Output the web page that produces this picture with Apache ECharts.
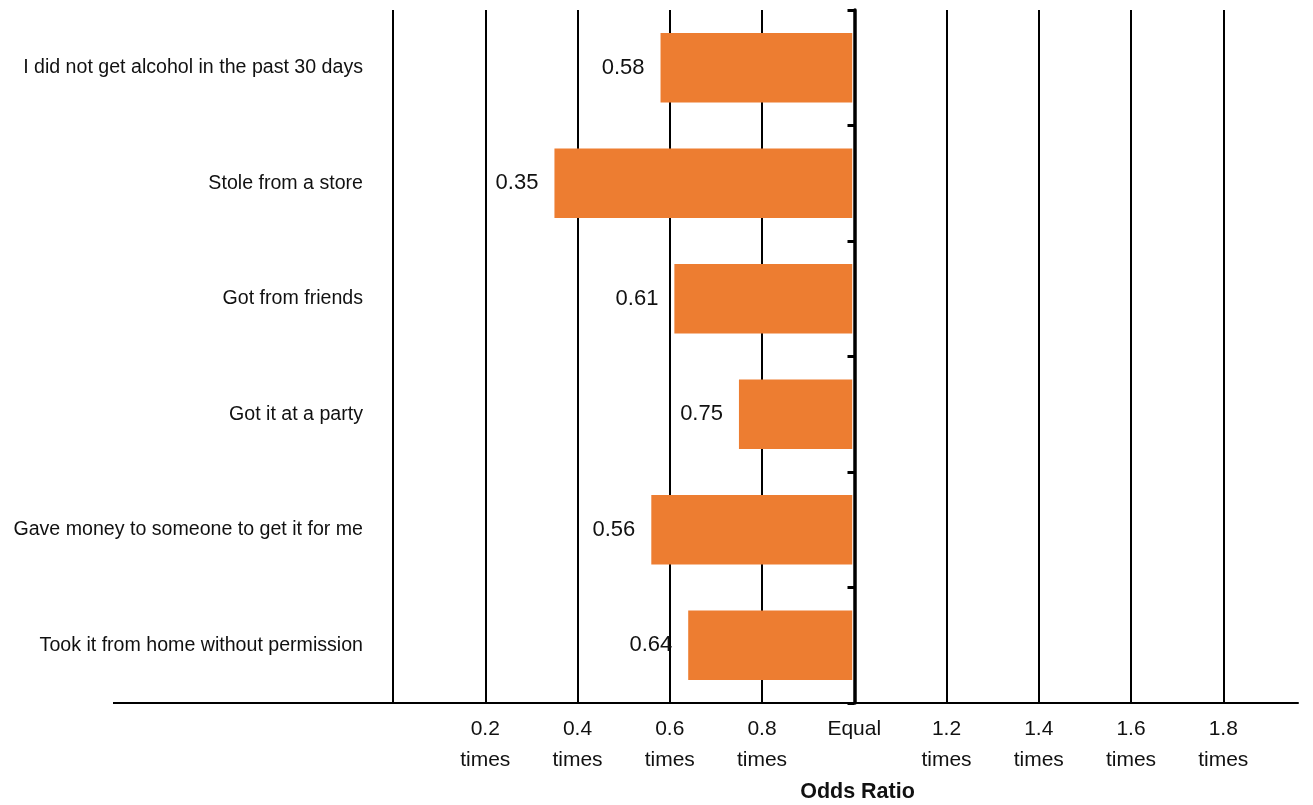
<!DOCTYPE html>
<html>
<head>
<meta charset="utf-8">
<script src="https://cdn.jsdelivr.net/npm/echarts@6/dist/echarts.min.js"></script>
<style>html,body{margin:0;padding:0;background:#fff;}#c{width:1313px;height:805px;}</style>
</head>
<body>
<div id="c"></div>
<script>
const categories = [
  'I did not get alcohol in the past 30 days',
  'Stole from a store',
  'Got from friends',
  'Got it at a party',
  'Gave money to someone to get it for me',
  'Took it from home without permission'
];
const oddsRatios = [0.58, 0.35, 0.61, 0.75, 0.56, 0.64];
const referenceValue = 1;
const tickLabels = {0.2:'0.2\ntimes',0.4:'0.4\ntimes',0.6:'0.6\ntimes',0.8:'0.8\ntimes',1:'Equal',1.2:'1.2\ntimes',1.4:'1.4\ntimes',1.6:'1.6\ntimes',1.8:'1.8\ntimes'};

const FONT = '"Liberation Sans","Arial",sans-serif';
const chart = echarts.init(document.getElementById('c'));
chart.setOption({
  animation: false,
  backgroundColor: '#fff',
  grid: {left: 393, top: 10, width: 905, bottom: 102, containLabel: false, outerBoundsMode: 'none'},
  xAxis: {
    type: 'value', min: 0, max: 1.962, interval: 0.2,
    axisLine: {show: true, lineStyle: {color: '#000', width: 2}},
    axisTick: {show: false},
    splitLine: {show: true, showMaxLine: false, lineStyle: {color: '#000', width: 2}},
    axisLabel: {
      showMaxLabel: false, color: '#111', fontFamily: FONT, fontSize: 21, lineHeight: 31, margin: 11,
      formatter: v => { const k = Math.round(v*10)/10; return tickLabels[k] || ''; }
    },
    name: 'Odds Ratio', nameLocation: 'middle', nameGap: 74,
    nameTextStyle: {fontFamily: FONT, fontSize: 21.5, fontWeight: 'bold', color: '#111', padding: [0,0,0,24]}
  },
  yAxis: [{
    type: 'category', data: categories, inverse: true,
    axisLine: {show: false}, axisTick: {show: false}, splitLine: {show: false},
    axisLabel: {color: '#111', fontFamily: FONT, fontSize: 19.6, margin: 30}
  }, {
    type: 'category', data: categories, inverse: true, position: 'left', offset: -461.5,
    axisLine: {show: true, lineStyle: {color: '#000', width: 3.5}},
    axisTick: {show: true, inside: false, length: 7, lineStyle: {color: '#000', width: 3}},
    axisLabel: {show: false}, splitLine: {show: false}
  }],
  graphic: [{
    type: 'line', z: 10,
    shape: {x1: 113, y1: 703, x2: 394, y2: 703},
    style: {stroke: '#000', lineWidth: 2}
  }],
  series: [{
    type: 'custom',
    data: oddsRatios.map((v, i) => [v, i]),
    encode: {x: 0, y: 1},
    renderItem: function (params, api) {
      const v = api.value(0), idx = api.value(1);
      const p0 = api.coord([v, idx]);
      const p1 = api.coord([referenceValue, idx]);
      const h = api.size([0, 1])[1] * 0.6;
      return {
        type: 'group',
        children: [{
          type: 'rect',
          shape: {x: p0[0], y: p0[1] - h/2, width: p1[0] - p0[0] - 2, height: h},
          style: {fill: '#ED7D31'}
        }, {
          type: 'text',
          style: {x: p0[0] - 16, y: p0[1], text: v.toFixed(2), align: 'right', verticalAlign: 'middle',
                  fill: '#111', font: '22px ' + FONT}
        }]
      };
    }
  }]
});
</script>
</body>
</html>
